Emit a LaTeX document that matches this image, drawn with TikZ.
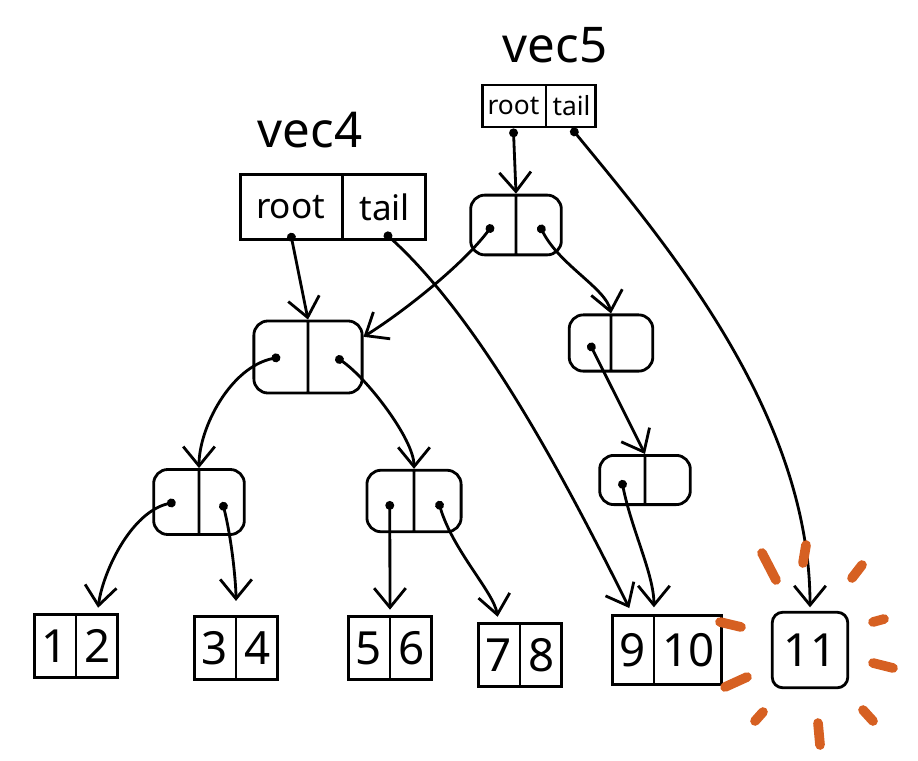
\documentclass[tikz,border=0pt]{standalone}
\usepackage{fontspec}
\setmainfont{Noto Sans}
\usepackage{tikz}
\usetikzlibrary{arrows.meta}
\usetikzlibrary{shapes, calc}

\definecolor{burst}{RGB}{214,96,34}

\begin{document}
\begin{tikzpicture}[x=0.02cm, y=-0.02cm, line width=1.6pt,
				   every node/.style={inner sep=3pt},
				   veclabel/.style={font=\fontsize{28}{30}\selectfont},
				   head/.style={rectangle split, rectangle split horizontal, rectangle split parts=2, draw},
				   pair/.style={rectangle split, rectangle split horizontal, rectangle split parts=2, draw,
				                rounded corners=8pt, inner xsep=4pt, inner ysep=4pt,
				                text width=17pt, minimum height=34pt},
				   leaf/.style={rectangle split, rectangle split horizontal, rectangle split parts=2, draw,
				                inner xsep=4pt, minimum height=36pt, font=\fontsize{26}{28}\selectfont},
				   ptr/.style={{Circle[length=5pt]}-{Straight Barb[length=11pt,width=18pt]}},
				   glow/.style={burst, line width=5.5pt, line cap=round}]

\useasboundingbox (0,0) rectangle (918,760);

% the two versions
\node[veclabel] (lbl5) at (555,45) {vec5};
\node[head, font=\fontsize{15}{16}\selectfont, minimum height=24pt, inner xsep=3pt] (v5) at (539,106) {root\nodepart{two}tail};
\node[veclabel] (lbl4) at (310,130) {vec4};
\node[head, font=\fontsize{20}{22}\selectfont, minimum height=37pt, inner xsep=9pt] (v4) at (333,207) {root\nodepart{two}tail};

% inner nodes
\node[pair] (a) at (516,225) {\nodepart{two}};
\node[pair, text width=22pt, minimum height=41pt] (b) at (308,357) {\nodepart{two}};
\node[pair, text width=15pt, minimum height=32pt] (c) at (611,343) {\nodepart{two}};
\node[pair, minimum height=28pt] (d) at (645,480) {\nodepart{two}};
\node[pair, minimum height=37pt] (e) at (199,502) {\nodepart{two}};
\node[pair, text width=18pt, minimum height=35pt] (f) at (414,501) {\nodepart{two}};

% leaves
\node[leaf] (l12) at (76,646) {1\nodepart{two}2};
\node[leaf] (l34) at (236,648) {3\nodepart{two}4};
\node[leaf] (l56) at (390,648) {5\nodepart{two}6};
\node[leaf] (l78) at (520,655) {7\nodepart{two}8};
\node[leaf, minimum height=39pt] (l910) at (667,650) {9\nodepart{two}10};
\node[draw, rounded corners=6pt, minimum width=43pt, minimum height=43pt, font=\fontsize{26}{28}\selectfont] (l11) at (810,650) {11};

% pointers
\draw[ptr] ($(v5.south west)!.5!(v5.one split south)$) -- (a.north);
\draw[ptr, shorten >=2pt] ($(v5.south east)!.5!(v5.one split south)$) .. controls +(90,110) and +(0,-200) .. (l11.north);
\draw[ptr] ($(v4.south west)!.5!(v4.one split south)+(0,-8)$) -- (b.north);
\draw[ptr, shorten >=4pt] ($(v4.south east)!.5!(v4.one split south)+(0,-8)$) .. controls +(100,90) and +(-60,-120) .. ($(l910.north west)!.5!(l910.one split north)$);
\draw[ptr] ($(a.west)!.5!(a.center)$) .. controls +(-30,40) and +(40,-25) .. (b.20);
\draw[ptr] ($(a.east)!.5!(a.center)$) .. controls +(20,40) and +(-5,-25) .. (c.north);
\draw[ptr] ($(c.west)!.5!(c.center)$) -- (d.north);
\draw[ptr, shorten >=4pt] ($(d.west)!.5!(d.center)$) .. controls +(10,50) and +(0,-40) .. (l910.one split north);
\draw[ptr] ($(b.west)!.5!(b.center)$) .. controls +(-50,10) and +(0,-40) .. (e.north);
\draw[ptr] ($(b.east)!.5!(b.center)$) .. controls +(30,20) and +(0,-30) .. (f.north);
\draw[ptr, shorten >=3pt] ($(e.west)!.5!(e.center)$) .. controls +(-45,10) and +(5,-40) .. ($(l12.north east)!.5!(l12.one split north)$);
\draw[ptr, shorten >=8pt] ($(e.east)!.5!(e.center)$) .. controls +(10,40) and +(0,-30) .. (l34.one split north);
\draw[ptr, shorten >=3pt] ($(f.west)!.5!(f.center)$) -- (l56.one split north);
\draw[ptr, shorten >=3pt] ($(f.east)!.5!(f.center)$) .. controls +(15,50) and +(-5,-30) .. ($(l78.north west)!.5!(l78.one split north)$);

% highlight round 11
\foreach \xa/\ya/\xb/\yb in {762/553/776/580, 806/545/803/563, 852/578/862/565,
                             873/622/884/619, 873/663/893/668, 863/710/873/721,
                             818/723/820/745, 755/721/763/712, 725/687/747/677,
                             720/622/741/627}
	\draw[glow] (\xa,\ya) -- (\xb,\yb);

\end{tikzpicture}
\end{document}
